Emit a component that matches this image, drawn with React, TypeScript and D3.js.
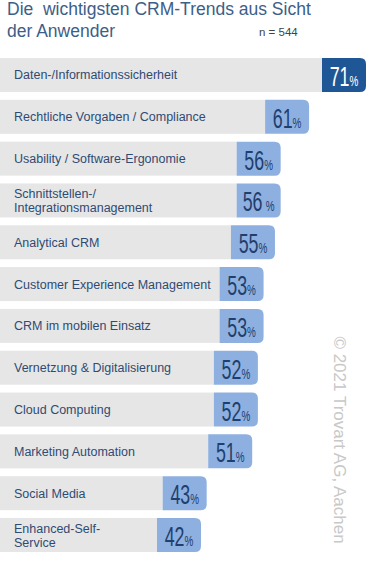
import React from 'react';
import * as d3 from 'd3';

const categories = [
  ['Daten-/Informationssicherheit'],
  ['Rechtliche Vorgaben / Compliance'],
  ['Usability / Software-Ergonomie'],
  ['Schnittstellen-/', 'Integrationsmanagement'],
  ['Analytical CRM'],
  ['Customer Experience Management'],
  ['CRM im mobilen Einsatz'],
  ['Vernetzung & Digitalisierung'],
  ['Cloud Computing'],
  ['Marketing Automation'],
  ['Social Media'],
  ['Enhanced-Self-', 'Service'],
];
const values = [71, 61, 56, 56, 55, 53, 53, 52, 52, 51, 43, 42];

const titleLines = ['Die  wichtigsten CRM-Trends aus Sicht', 'der Anwender'];
const sampleNote = 'n = 544';
const copyright = '© 2021 Trovart AG, Aachen';

const W = 367;
const H = 583;

// bar ends where the value box ends; box is a fixed width tab
const x = d3.scaleLinear().domain([42, 71]).range([201, 366]);
const y = d3.scaleBand<number>()
  .domain(d3.range(values.length))
  .range([58, 552])
  .paddingInner(0.187)
  .paddingOuter(0);

const boxW = 44;
const r = 6;
const sans = '"Liberation Sans", Arial, Helvetica, sans-serif';

const tabPath = (x0: number, y0: number, w: number, h: number) =>
  `M${x0},${y0}H${x0 + w - r}Q${x0 + w},${y0} ${x0 + w},${y0 + r}V${y0 + h - r}Q${x0 + w},${y0 + h} ${x0 + w - r},${y0 + h}H${x0}Z`;

export default function App() {
  const bh = y.bandwidth();
  return (
    <svg width={W} height={H} style={{ position: 'absolute', left: 0, top: 0, background: '#fff' }}>
      {titleLines.map((t, i) => (
        <text key={t} x={7} y={15 + i * 22} fontFamily={sans} fontSize={17.5} fill="#3d5e88" style={{ whiteSpace: 'pre' }}>
          {t}
        </text>
      ))}
      <text x={259} y={36} fontFamily={sans} fontSize={11.5} fill="#444">{sampleNote}</text>

      {values.map((v, i) => {
        const y0 = y(i)!;
        const right = x(v);
        const top = i === 0;
        const lines = categories[i];
        return (
          <g key={i}>
            <rect x={0} y={y0} width={right - boxW} height={bh} fill="#e6e6e6" />
            <path d={tabPath(right - boxW, y0, boxW, bh)} fill={top ? '#1f5796' : '#8eb0e0'} />
            <g transform={`translate(${right - boxW / 2},${y0 + bh / 2 + 11}) scale(0.66,1)`}>
              <text textAnchor="middle" fontFamily={sans} fill={top ? '#fff' : '#1f3f6e'}>
                <tspan fontSize={27}>{v}</tspan>
                <tspan fontSize={15} dx={i === 3 ? 5 : 0}>%</tspan>
              </text>
            </g>
            {lines.map((l, j) => (
              <text
                key={l}
                x={14}
                y={y0 + bh / 2 + 4.5 + (j - (lines.length - 1) / 2) * 14}
                fontFamily={sans}
                fontSize={12.5}
                fill="#2f4b73"
              >
                {l}
              </text>
            ))}
          </g>
        );
      })}

      <text
        transform="translate(334,440) rotate(90)"
        textAnchor="middle"
        fontFamily={sans}
        fontSize={17}
        fill="#c8c8c8"
      >
        {copyright}
      </text>
    </svg>
  );
}
